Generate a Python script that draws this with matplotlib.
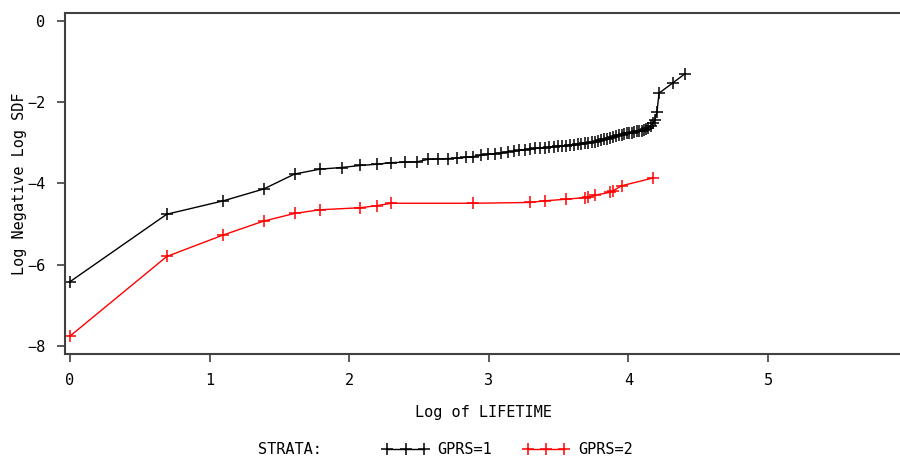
import numpy as np
import matplotlib
matplotlib.use('Agg')
import matplotlib.pyplot as plt
from matplotlib.lines import Line2D

# GPRS=1 : lifetimes and log(-log(SDF))
life_1 = [1, 2, 3, 4, 5, 6, 7, 8, 9, 10,
          11, 12, 13, 14, 15, 16, 17, 18, 19, 20,
          21, 22, 23, 24, 25, 26, 27, 28, 29, 30,
          31, 32, 33, 34, 35, 36, 37, 38, 39, 40,
          41, 42, 43, 44, 45, 46, 47, 48, 49, 50,
          51, 52, 53, 54, 55, 56, 57, 58, 59, 60,
          61, 62, 63, 64, 65, 66, 67, 68, 75, 82]
lls_1 = [-6.42, -4.76, -4.43, -4.14, -3.77, -3.65, -3.61, -3.56, -3.53, -3.49,
         -3.48, -3.47, -3.41, -3.40, -3.39, -3.38, -3.36, -3.34, -3.31, -3.28,
         -3.27, -3.25, -3.22, -3.21, -3.19, -3.17, -3.16, -3.14, -3.13, -3.12,
         -3.11, -3.10, -3.09, -3.08, -3.07, -3.06, -3.05, -3.04, -3.02, -3.01,
         -3.00, -2.98, -2.97, -2.95, -2.94, -2.92, -2.90, -2.88, -2.86, -2.84,
         -2.82, -2.80, -2.79, -2.77, -2.76, -2.75, -2.74, -2.72, -2.71, -2.70,
         -2.68, -2.66, -2.63, -2.58, -2.52, -2.44, -2.25, -1.78, -1.53, -1.30]

# GPRS=2
life_2 = [1, 2, 3, 4, 5, 6, 8, 9, 10, 18, 27, 30, 35, 40, 41, 43, 48, 49, 52, 65]
lls_2 = [-7.76, -5.80, -5.27, -4.93, -4.74, -4.65, -4.60, -4.55, -4.49, -4.49,
         -4.47, -4.43, -4.39, -4.35, -4.34, -4.29, -4.22, -4.18, -4.06, -3.87]

font = 'DejaVu Sans Mono'
plt.rcParams['font.family'] = [font]

fig = plt.figure(figsize=(9, 4.57), dpi=100)
ax = fig.add_axes([0.0722, 0.2254, 0.93, 0.7468])

ax.plot(np.log(life_1), lls_1, color='black', lw=1, marker='+', ms=8, mew=1.1)
ax.plot(np.log(life_2), lls_2, color='red', lw=1, marker='+', ms=9, mew=1.1)

ax.set_xlim(-0.036, 5.96)
ax.set_ylim(-8.2, 0.2)
ax.set_xticks([0, 1, 2, 3, 4, 5])
ax.set_yticks([0, -2, -4, -6, -8])
ax.set_yticklabels(['0', '\u22122', '\u22124', '\u22126', '\u22128'])

for s in ['left', 'bottom', 'top']:
    ax.spines[s].set_color('#404040')
    ax.spines[s].set_linewidth(1.5)
ax.spines['right'].set_visible(False)
ax.tick_params(direction='out', length=6, width=1.2, color='#404040', labelsize=11, pad=8)

ax.set_xlabel('Log of LIFETIME', fontsize=11, labelpad=12)
ax.set_ylabel('Log Negative Log SDF', fontsize=11, labelpad=0)

fig.text(0.287, 0.0, 'STRATA:', fontsize=11, va='bottom')
h1 = Line2D([], [], color='black', lw=1, marker='+', ms=8, mew=1.1)
h2 = Line2D([], [], color='red', lw=1, marker='+', ms=9, mew=1.1)
fig.legend([h1, h2], ['GPRS=1', 'GPRS=2'], loc='lower left', bbox_to_anchor=(0.41, -0.03),
           ncol=2, frameon=False, numpoints=3, handlelength=3.0, handletextpad=0.6,
           columnspacing=2.0, fontsize=11)

fig.savefig('out.png', dpi=100)
